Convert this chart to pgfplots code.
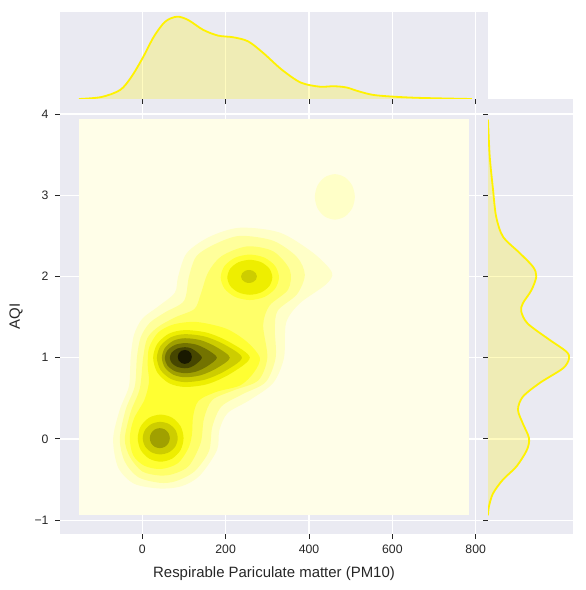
\documentclass[border=0pt]{standalone}
\usepackage{fontspec}
\setmainfont{Liberation Sans}
\usepackage{pgfplots}
\pgfplotsset{compat=1.18}
\definecolor{bgc}{RGB}{234,234,242}
\definecolor{tickc}{RGB}{38,38,38}
\definecolor{kc0}{RGB}{255,254,232}
\definecolor{kc1}{RGB}{255,255,200}
\definecolor{kc2}{RGB}{255,255,155}
\definecolor{kc3}{RGB}{255,255,105}
\definecolor{kc4}{RGB}{255,255,50}
\definecolor{kc5}{RGB}{238,238,0}
\definecolor{kc6}{RGB}{205,205,0}
\definecolor{kc7}{RGB}{160,160,0}
\definecolor{kc8}{RGB}{115,115,0}
\definecolor{kc9}{RGB}{70,70,0}
\definecolor{kc10}{RGB}{25,25,0}
\pgfplotsset{
  jstyle/.style={
    scale only axis, anchor=south west,
    axis background/.style={fill=bgc},
    axis line style={draw=none},
    grid=major, major grid style={white, line width=1.1bp},
    tick align=outside, major tick length=5bp,
    tick style={tickc, line width=1bp},
    tick label style={font=\fontsize{12.3}{14}\selectfont, text=tickc},
    label style={font=\fontsize{15}{18}\selectfont, text=tickc},
  },
  kde/.style={draw=none, fill=#1, smooth cycle},
}
\begin{document}
\begin{tikzpicture}
\path[use as bounding box] (0,0) rectangle (586bp,590bp);
% main joint axis
\begin{axis}[jstyle, at={(60bp,56bp)}, width=428bp, height=435bp,
  xmin=-197.5, xmax=829.5, ymin=-1.17, ymax=4.185,
  xtick={0,200,400,600,800}, xticklabels={0,200,400,600,800},
  ytick={-1,0,1,2,3,4}, yticklabels={−1,0,1,2,3,4},
  xtick pos=bottom, ytick pos=left,
  xticklabel style={yshift=-2bp}, yticklabel style={xshift=-3bp},
  xlabel shift=7bp, ylabel shift=5bp,
  xlabel={Respirable Pariculate matter (PM10)}, ylabel={AQI}]
\addplot[draw=none, fill=kc0] coordinates {(-152,-0.94) (784,-0.94) (784,3.94) (-152,3.94)};
% level 1
\addplot[kde=kc1] coordinates {(-70,0.0) (-54,0.36) (-32,0.65) (-28,1.0) (-20,1.28) (0,1.48) (38,1.63) (78,1.80) (86,2.0) (107,2.29) (162,2.49) (234,2.60) (330,2.54) (410,2.29) (455,2.05) (440,1.90) (378,1.67) (345,1.43) (340,1.0) (314,0.69) (258,0.48) (205,0.32) (185,0.11) (179,-0.14) (138,-0.45) (95,-0.58) (42,-0.61) (-20,-0.55) (-58,-0.35)};
\addplot[kde=kc1] coordinates {(510,2.98) (503.6,3.12) (486,3.222) (462,3.26) (438,3.222) (420.4,3.12) (414,2.98) (420.4,2.84) (438,2.738) (462,2.70) (486,2.738) (503.6,2.84)};
% level 2
\addplot[kde=kc2] coordinates {(-54,0) (-40,0.36) (-18,0.65) (-13,1.0) (-4,1.25) (18,1.43) (55,1.56) (100,1.70) (112,2.0) (130,2.25) (175,2.40) (234,2.50) (314,2.44) (371,2.24) (390,2.02) (371,1.78) (325,1.58) (318,1.35) (320,1.0) (296,0.70) (240,0.55) (190,0.40) (168,0.15) (160,-0.15) (125,-0.40) (80,-0.52) (42,-0.54) (-10,-0.47) (-42,-0.28)};
% level 3
\addplot[kde=kc3] coordinates {(-42,0.0) (-28,0.33) (-6,0.62) (2,1.0) (12,1.24) (38,1.38) (80,1.50) (125,1.60) (140,1.78) (158,2.05) (190,2.25) (251,2.37) (314,2.31) (354,2.08) (350,1.84) (305,1.64) (290,1.40) (300,1.0) (278,0.72) (220,0.60) (168,0.48) (148,0.25) (140,-0.05) (112,-0.33) (75,-0.43) (42,-0.45) (0,-0.40) (-30,-0.22)};
% level 4
\addplot[kde=kc4] coordinates {(282,1.0) (250,1.20) (200,1.36) (130,1.44) (75,1.41) (38,1.31) (16,1.12) (13,0.90) (16,0.70) (5,0.48) (-20,0.25) (-30,0.02) (-22,-0.20) (5,-0.33) (45,-0.37) (85,-0.30) (110,-0.12) (119,0.05) (122,0.28) (135,0.47) (178,0.58) (235,0.66) (268,0.82)};
\addplot[kde=kc4] coordinates {(328,1.99) (318.6,2.13) (293,2.232) (258,2.27) (223,2.232) (197.4,2.13) (188,1.99) (197.4,1.85) (223,1.748) (258,1.71) (293,1.748) (318.6,1.85)};
% level 5
\addplot[kde=kc5] coordinates {(258,1.0) (211,1.187) (156.6,1.306) (102,1.34) (64,1.296) (35.9,1.17) (26,1.0) (35.9,0.82) (64,0.687) (102,0.64) (156.6,0.676) (211,0.802)};
\addplot[kde=kc5] coordinates {(99,0.01) (91.9,0.155) (71.5,0.262) (44,0.30) (16.5,0.262) (-3.9,0.155) (-11,0.01) (-3.9,-0.135) (16.5,-0.242) (44,-0.28) (71.5,-0.242) (91.9,-0.135)};
\addplot[kde=kc5] coordinates {(312,1.99) (304.8,2.0975) (285,2.176) (258,2.205) (231,2.176) (211.2,2.0975) (204,1.99) (211.2,1.8825) (231,1.804) (258,1.775) (285,1.804) (304.8,1.8825)};
% level 6
\addplot[kde=kc6] coordinates {(239,1.0) (197.9,1.16) (150,1.261) (102,1.29) (68.5,1.252) (43.7,1.145) (35,1.0) (43.7,0.85) (68.5,0.739) (102,0.70) (150,0.73) (197.9,0.835)};
\addplot[kde=kc6] coordinates {(85,0.01) (79.5,0.11) (64,0.184) (43,0.21) (22,0.184) (6.5,0.11) (1,0.01) (6.5,-0.09) (22,-0.164) (43,-0.19) (64,-0.164) (79.5,-0.09)};
\addplot[kde=kc6] coordinates {(275,2.0) (272.5,2.04) (265.5,2.069) (256,2.08) (246.5,2.069) (239.5,2.04) (237,2.0) (239.5,1.96) (246.5,1.931) (256,1.92) (265.5,1.931) (272.5,1.96)};
% level 7
\addplot[kde=kc7] coordinates {(210,1.0) (177.6,1.132) (139.8,1.216) (102,1.24) (74.5,1.209) (54.2,1.12) (47,1.0) (54.2,0.88) (74.5,0.791) (102,0.76) (139.8,0.784) (177.6,0.868)};
\addplot[kde=kc7] coordinates {(66,0.01) (62.8,0.0715) (54,0.117) (42,0.133) (30,0.117) (21.2,0.0715) (18,0.01) (21.2,-0.0515) (30,-0.097) (42,-0.113) (54,-0.097) (62.8,-0.0515)};
% level 8
\addplot[kde=kc8] coordinates {(179,1.0) (155.9,1.099) (129,1.162) (102,1.18) (78,1.157) (60.2,1.09) (54,1.0) (60.2,0.905) (78,0.835) (102,0.81) (129,0.829) (155.9,0.8955)};
% level 9
\addplot[kde=kc9] coordinates {(143,1.0) (130.7,1.0715) (116.4,1.117) (102,1.13) (84,1.113) (70.7,1.065) (66,1.0) (70.7,0.935) (84,0.887) (102,0.87) (116.4,0.883) (130.7,0.9285)};
% level 10
\addplot[kde=kc10] coordinates {(119,1.01) (116.8,1.053) (110.5,1.085) (102,1.096) (93.5,1.085) (87.2,1.053) (85,1.01) (87.2,0.967) (93.5,0.935) (102,0.924) (110.5,0.935) (116.8,0.967)};
\end{axis}
% top marginal
\begin{axis}[jstyle, at={(60bp,491bp)}, width=428bp, height=87bp,
  xmin=-197.5, xmax=829.5, ymin=0, ymax=1.057,
  xtick={0,200,400,600,800}, xticklabels={}, ytick=\empty,
  xtick pos=bottom]
\addplot[draw=none, fill=yellow, fill opacity=0.25, smooth] coordinates {(-152,0) (-98,0.024) (-53,0.11) (-26,0.27) (1,0.50) (28,0.76) (55,0.94) (83,1.0) (110,0.96) (146,0.84) (182,0.77) (218,0.75) (254,0.70) (290,0.56) (335,0.355) (380,0.20) (425,0.15) (460,0.155) (490,0.14) (520,0.092) (561,0.045) (651,0.016) (791,0)};
\addplot[draw=yellow, line width=1.8bp, smooth] coordinates {(-152,0) (-98,0.024) (-53,0.11) (-26,0.27) (1,0.50) (28,0.76) (55,0.94) (83,1.0) (110,0.96) (146,0.84) (182,0.77) (218,0.75) (254,0.70) (290,0.56) (335,0.355) (380,0.20) (425,0.15) (460,0.155) (490,0.14) (520,0.092) (561,0.045) (651,0.016) (791,0)};
\end{axis}
% right marginal
\begin{axis}[jstyle, at={(488bp,56bp)}, width=85bp, height=435bp,
  xmin=0, xmax=1.049, ymin=-1.17, ymax=4.185,
  ytick={-1,0,1,2,3,4}, yticklabels={}, xtick=\empty,
  ytick pos=left]
\addplot[draw=none, fill=yellow, fill opacity=0.25, smooth] coordinates {(0,3.93) (0.021,3.48) (0.062,3.07) (0.10,2.74) (0.185,2.49) (0.39,2.29) (0.555,2.12) (0.596,2.00) (0.535,1.83) (0.43,1.67) (0.41,1.57) (0.49,1.42) (0.76,1.22) (0.967,1.075) (1.0,0.99) (0.926,0.87) (0.64,0.69) (0.43,0.52) (0.37,0.36) (0.43,0.19) (0.506,0.01) (0.48,-0.135) (0.35,-0.34) (0.185,-0.50) (0.062,-0.67) (0.012,-0.83) (0,-0.94)};
\addplot[draw=yellow, line width=1.8bp, smooth] coordinates {(0,3.93) (0.021,3.48) (0.062,3.07) (0.10,2.74) (0.185,2.49) (0.39,2.29) (0.555,2.12) (0.596,2.00) (0.535,1.83) (0.43,1.67) (0.41,1.57) (0.49,1.42) (0.76,1.22) (0.967,1.075) (1.0,0.99) (0.926,0.87) (0.64,0.69) (0.43,0.52) (0.37,0.36) (0.43,0.19) (0.506,0.01) (0.48,-0.135) (0.35,-0.34) (0.185,-0.50) (0.062,-0.67) (0.012,-0.83) (0,-0.94)};
\end{axis}
\end{tikzpicture}
\end{document}
